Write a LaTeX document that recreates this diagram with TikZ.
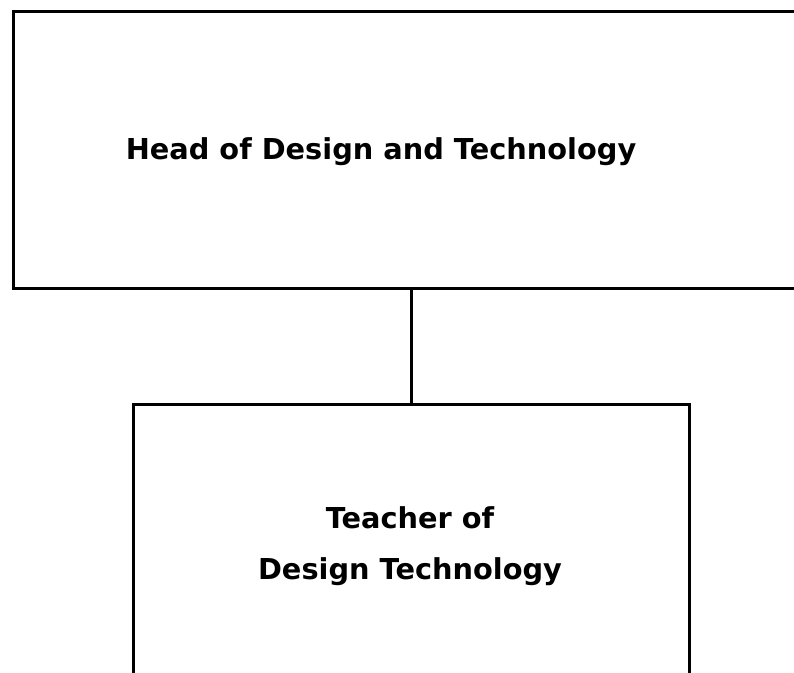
\documentclass[tikz,border=0pt]{standalone}
\usepackage{fontspec}
\setmainfont{DejaVu Sans}
\begin{document}
\begin{tikzpicture}[x=1pt,y=-1pt,
  boxstyle/.style={draw=black, line width=2.8pt, fill=white, inner sep=0pt},
  labelstyle/.style={font=\bfseries\fontsize{28.8}{51}\selectfont, align=center, inner sep=0pt},
  linkstyle/.style={draw=black, line width=2.8pt}]
\useasboundingbox (0,0) rectangle (794,672);
\fill[white] (0,0) rectangle (794,672);
% top box (right side runs past the picture edge)
\node[boxstyle, minimum width=800pt, minimum height=277pt, anchor=north west] (head) at (12,10) {};
\node[labelstyle, anchor=base] (headlabel) at (381,159) {Head of Design and Technology};
% bottom box (bottom side runs past the picture edge)
\node[boxstyle, minimum width=556pt, minimum height=300pt, anchor=north west] (teacher) at (132,403) {};
\node[labelstyle, anchor=center] (teacherlabel) at (410,546) {Teacher of\\Design Technology};
% connector
\draw[linkstyle] (head.south -| teacher.north) -- (teacher.north);
\end{tikzpicture}
\end{document}
